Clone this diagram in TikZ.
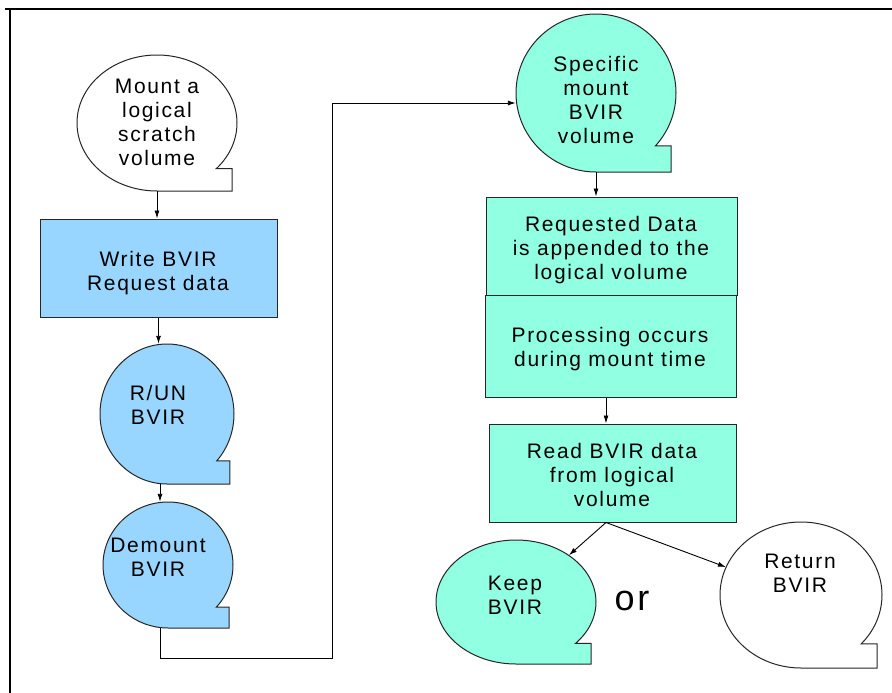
\documentclass[tikz,border=0pt]{standalone}
\usepackage{fontspec}
\setmainfont{Liberation Sans}
\newfontfamily\diafont[LetterSpace=8]{Liberation Sans}
\usetikzlibrary{shapes.geometric, arrows.meta, positioning}
\definecolor{bvirblue}{HTML}{99D6FF}
\definecolor{bvirteal}{HTML}{90FFE2}
\tikzset{
  % nastro (volume logico)
  tape/.style={draw=black!85, line width=1pt},
  drum/.style={ellipse, inner sep=0pt},
  % passo del processo
  stepbox/.style={draw=black!85, line width=1pt, align=center, inner sep=0pt},
  % testi
  lbl/.style={font=\fontsize{21}{24}\diafont, align=center},
  % frecce
  conn/.style={-{Latex[length=8pt, width=5pt]}, line width=0.9pt},
}
% nastro: nome, cx, cy, rx, ry, colore
\newcommand{\tapedrum}[6]{%
  \draw[tape, fill=#6] (#2,#3) ++(-42:#4 and #5)
    arc[start angle=-42, end angle=270, x radius=#4, y radius=#5]
    -- ++({0.94*#4},0) -- ({#2+0.94*#4},{#3-#5*sin(42)}) -- cycle;
  \node[drum, minimum width={2*#4}, minimum height={2*#5}] (#1) at (#2,#3) {};
}

\begin{document}
\begin{tikzpicture}[x=1pt, y=1pt]
  \useasboundingbox (0,0) rectangle (892,-693);
  \draw[line width=2.5pt] (5,-9) -- (892,-9);
  \draw[line width=2.5pt] (10,-9) -- (10,-693);

  % colonna di sinistra
  \tapedrum{mount}{157}{-123}{80}{68}{white}
  \node[lbl] (mount-txt) at (157,-122) {Mount a\\logical\\scratch\\volume};
  \node[stepbox, fill=bvirblue, minimum width=237pt, minimum height=98pt] (write) at (158.5,-268) {};
  \node[lbl] (write-txt) at (158,-273) {Write BVIR\\Request data};
  \tapedrum{run}{167}{-414}{67}{70}{bvirblue}
  \node[lbl] (run-txt) at (158,-405) {R/UN\\BVIR};
  \tapedrum{demount}{168}{-565}{65}{63}{bvirblue}
  \node[lbl] (demount-txt) at (158,-557) {Demount\\BVIR};

  % colonna di destra
  \tapedrum{specific}{596}{-93}{80}{79}{bvirteal}
  \node[lbl] (specific-txt) at (596,-100) {Specific\\mount\\BVIR\\volume};
  \node[stepbox, fill=bvirteal, minimum width=251pt, minimum height=98pt] (request) at (611.5,-246) {};
  \node[lbl] (request-txt) at (611,-250) {Requested Data\\is appended to the\\logical volume};
  \node[stepbox, fill=bvirteal, minimum width=251pt, minimum height=102pt] (process) at (610.5,-346) {};
  \node[lbl] (process-txt) at (610,-349) {Processing occurs\\during mount time};
  \node[stepbox, fill=bvirteal, minimum width=247pt, minimum height=98pt] (read) at (612.5,-473) {};
  \node[lbl] (read-txt) at (612,-475) {Read BVIR data\\from logical\\volume};
  \tapedrum{keep}{516}{-602}{80}{62}{bvirteal}
  \node[lbl] (keep-txt) at (515,-595) {Keep\\BVIR};
  \node[font=\fontsize{36}{40}\diafont] (or) at (632,-601) {or};
  \tapedrum{return}{801}{-595}{81}{73}{white}
  \node[lbl] (return-txt) at (800,-573) {Return\\BVIR};

  % collegamenti
  \coordinate (bend1) at (160,-658);
  \coordinate (bend2) at (332,-103);
  \draw[conn] (mount.south) -- (mount.south |- write.north);
  \draw[conn] (write.south) -- (write.south |- run.north);
  \draw[conn] (run.south -| 160,0) -- (demount.north -| 160,0);
  \draw[conn] (demount.south -| bend1) -- (bend1) -| (bend2) -- (bend2 -| specific.west);
  \draw[conn] (specific.south) -- (specific.south |- request.north);
  \draw[conn] (process.south -| 606,0) -- (read.north -| 606,0);
  \draw[conn] (read.south -| 606,0) -- (keep);
  \draw[conn] (read.south -| 606,0) -- (return);
\end{tikzpicture}
\end{document}
